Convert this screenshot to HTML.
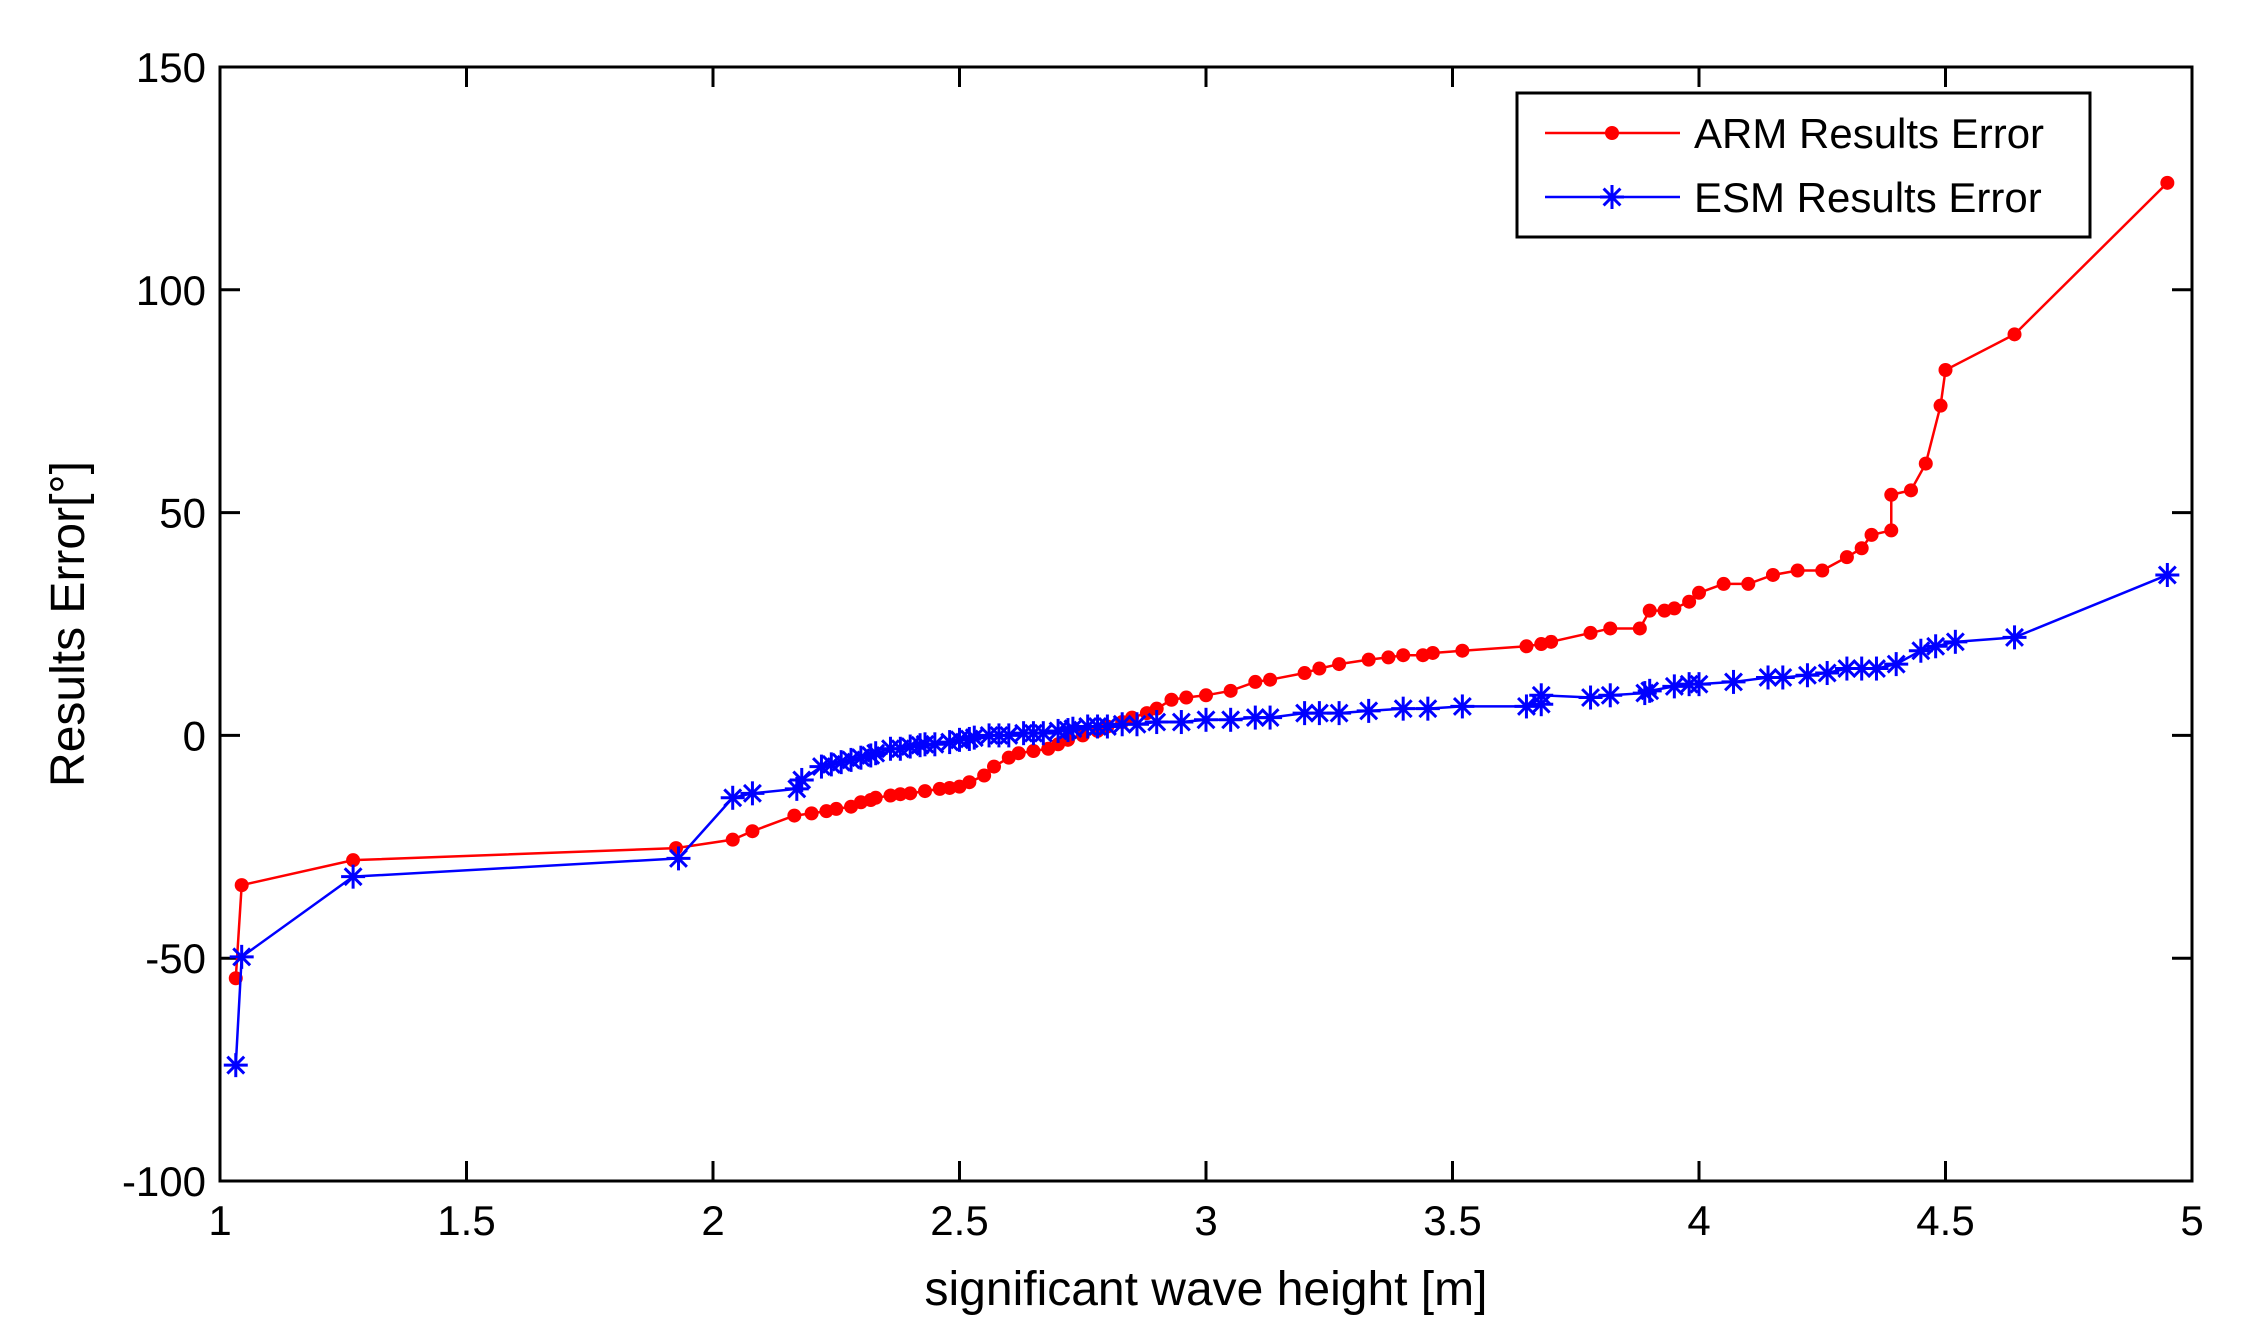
<!DOCTYPE html>
<html><head><meta charset="utf-8"><style>
html,body{margin:0;padding:0;background:#fff;}
svg{display:block;font-family:"Liberation Sans",sans-serif;}
</style></head><body>
<svg id="chart" width="2243" height="1340" viewBox="0 0 2243 1340">
<rect x="0" y="0" width="2243" height="1340" fill="#fff"/>
<g id="plot"></g>
</svg>
<script>
const xTicks=[1,1.5,2,2.5,3,3.5,4,4.5,5];
const yTicks=[-100,-50,0,50,100,150];
const armX=[1.032,1.044,1.27,1.925,2.04,2.08,2.165,2.2,2.23,2.25,2.28,2.3,2.32,2.33,2.36,2.38,2.4,2.43,2.46,2.48,2.5,2.52,2.55,2.57,2.6,2.62,2.65,2.68,2.7,2.72,2.75,2.78,2.8,2.83,2.85,2.88,2.9,2.93,2.96,3.0,3.05,3.1,3.13,3.2,3.23,3.27,3.33,3.37,3.4,3.44,3.46,3.52,3.65,3.68,3.7,3.78,3.82,3.88,3.9,3.93,3.95,3.98,4.0,4.05,4.1,4.15,4.2,4.25,4.3,4.33,4.35,4.39,4.39,4.43,4.46,4.49,4.5,4.64,4.95];
const armY=[-54.5,-33.6,-28,-25.3,-23.4,-21.5,-18,-17.5,-17,-16.5,-16,-15,-14.5,-14,-13.5,-13.2,-13,-12.5,-12,-11.8,-11.5,-10.5,-9,-7,-5,-4,-3.5,-3,-2,-1,0,1,2,3,4,5,6,8,8.5,9,10,12,12.5,14,15,16,17,17.5,18,18,18.5,19,20,20.5,21,23,24,24,28,28,28.5,30,32,34,34,36,37,37,40,42,45,46,54,55,61,74,82,90,124];
const esmX=[1.032,1.044,1.27,1.93,2.04,2.08,2.17,2.18,2.22,2.24,2.26,2.28,2.3,2.32,2.33,2.36,2.38,2.4,2.42,2.43,2.45,2.48,2.5,2.52,2.53,2.56,2.58,2.6,2.63,2.65,2.67,2.7,2.72,2.73,2.76,2.78,2.8,2.83,2.86,2.9,2.95,3.0,3.05,3.1,3.13,3.2,3.23,3.27,3.33,3.4,3.45,3.52,3.65,3.68,3.68,3.78,3.82,3.89,3.9,3.95,3.98,4.0,4.07,4.14,4.17,4.22,4.26,4.3,4.33,4.36,4.4,4.45,4.48,4.52,4.64,4.95];
const esmY=[-74,-49.7,-31.7,-27.6,-14,-13,-12,-10,-7,-6.5,-6,-5.5,-5,-4.5,-4,-3,-3,-2.5,-2.2,-2,-2,-1.5,-1,-0.8,-0.5,0,0,0,0.5,0.5,0.5,1,1.2,1.5,2,2,2,2.5,2.5,3,3,3.5,3.5,4,4,5,5,5,5.5,6,6,6.5,6.5,7,9,8.5,9,9.5,10,11,11.5,11.5,12,13,13,13.5,14,15,15,15,16,19,20,21,22,36];
const NS="http://www.w3.org/2000/svg";
const L=220,R=2192,T=67,B=1181;
const sx=v=>L+(v-1)/4*(R-L);
const sy=v=>B-(v+100)/250*(B-T);
const g=document.getElementById('plot');
function mk(tag,attrs,parent){const e=document.createElementNS(NS,tag);for(const k in attrs)e.setAttribute(k,attrs[k]);(parent||g).appendChild(e);return e;}
xTicks.forEach(t=>{
  const x=sx(t);
  const a=mk('line',{x1:x,y1:B,x2:x,y2:B-20,stroke:'#000','stroke-width':3});
  
  
  const b=mk('line',{x1:x,y1:T,x2:x,y2:T+20,stroke:'#000','stroke-width':3});
  
  
  const tx=mk('text',{x:x,y:B+54,'font-size':42,'text-anchor':'middle',fill:'#000'});
  tx.textContent=String(t);
  
  
});
yTicks.forEach(t=>{
  const y=sy(t);
  const a=mk('line',{x1:L,y1:y,x2:L+20,y2:y,stroke:'#000','stroke-width':3});
  
  
  const b=mk('line',{x1:R,y1:y,x2:R-20,y2:y,stroke:'#000','stroke-width':3});
  
  
  const tx=mk('text',{x:L-14,y:y+15,'font-size':42,'text-anchor':'end',fill:'#000'});
  tx.textContent=String(t);
  
  
});
const frame=mk('rect',{x:L,y:T,width:R-L,height:B-T,fill:'none',stroke:'#000','stroke-width':3});


function star(cx,cy,s,col,parent){
  const grp=mk('g',{stroke:col,'stroke-width':3},parent);
  mk('line',{x1:cx-s,y1:cy,x2:cx+s,y2:cy},grp);
  mk('line',{x1:cx,y1:cy-s,x2:cx,y2:cy+s},grp);
  mk('line',{x1:cx-s*0.7,y1:cy-s*0.7,x2:cx+s*0.7,y2:cy+s*0.7},grp);
  mk('line',{x1:cx-s*0.7,y1:cy+s*0.7,x2:cx+s*0.7,y2:cy-s*0.7},grp);
  return grp;
}
const armPath=mk('polyline',{points:armX.map((x,i)=>sx(x)+','+sy(armY[i])).join(' '),fill:'none',stroke:'#f00','stroke-width':2.5});


armX.forEach((x,i)=>{
  const c=mk('circle',{cx:sx(x),cy:sy(armY[i]),r:7,fill:'#f00'});
  
  
});
const esmPath=mk('polyline',{points:esmX.map((x,i)=>sx(x)+','+sy(esmY[i])).join(' '),fill:'none',stroke:'#00f','stroke-width':2.5});


esmX.forEach((x,i)=>{
  const s=star(sx(x),sy(esmY[i]),12,'#00f');
  
  
});
const xl=mk('text',{x:(L+R)/2,y:1305,'font-size':48,'text-anchor':'middle',fill:'#000'});
xl.textContent='significant wave height [m]';


const yl=mk('text',{x:0,y:0,'font-size':48,'text-anchor':'middle',fill:'#000',transform:'translate(84,'+((T+B)/2)+') rotate(-90)'});
yl.textContent='Results Error[°]';


const lg=mk('g',{});


mk('rect',{x:1517,y:93,width:573,height:144,fill:'#fff',stroke:'#000','stroke-width':3},lg);
const e1=mk('g',{},lg);


mk('line',{x1:1545,y1:133,x2:1680,y2:133,stroke:'#f00','stroke-width':2.5},e1);
mk('circle',{cx:1612,cy:133,r:7,fill:'#f00'},e1);
const t1=mk('text',{x:1694,y:148,'font-size':42,fill:'#000'},e1);t1.textContent='ARM Results Error';
const e2=mk('g',{},lg);


mk('line',{x1:1545,y1:197,x2:1680,y2:197,stroke:'#00f','stroke-width':2.5},e2);
star(1612,197,12,'#00f',e2);
const t2=mk('text',{x:1694,y:212,'font-size':42,fill:'#000'},e2);t2.textContent='ESM Results Error';
</script>
</body></html>
